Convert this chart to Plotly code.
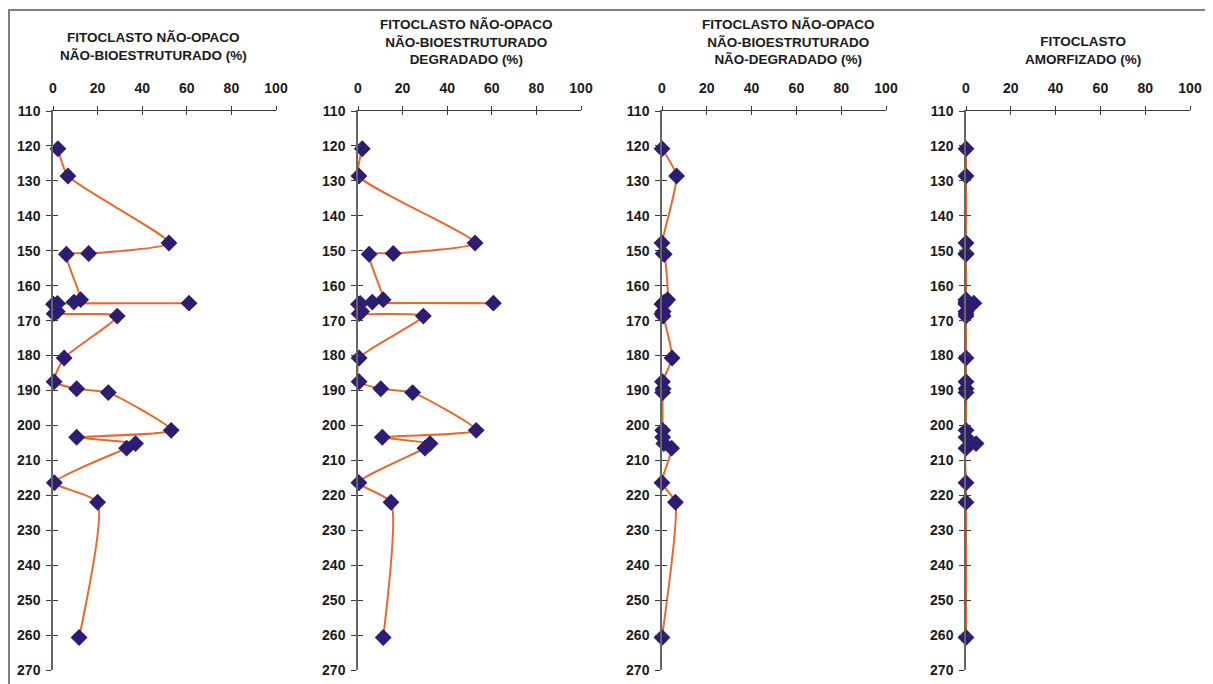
import plotly.graph_objects as go

# ---- data ----
depth = [120.8, 128.6, 147.8, 150.8, 151.0, 164.0, 164.7, 165.0, 165.1, 165.3,
         167.4, 168.0, 168.7, 180.7, 187.5, 189.5, 190.6, 201.4, 203.4, 205.2,
         206.5, 216.4, 222.0, 260.7]

nao_bioestruturado = [2.2, 6.7, 52, 16, 6, 12.4, 9.4, 61, 2, 0.2,
                      1.9, 0.5, 28.8, 5, 0.5, 10.6, 24.8, 53, 10.6, 37,
                      33, 0.6, 20, 11.7]

degradado = [1.9, 0.4, 52.5, 15.8, 5, 11.3, 6.4, 60.7, 1, 0.2,
             1.6, 0.5, 29.3, 0.5, 0.5, 10.2, 24.5, 53, 10.9, 32.3,
             30, 0.4, 14.8, 11.3]

nao_degradado = [0, 6.5, 0, 0.5, 1, 2.5, 1, 0.5, 1, 0,
                 0.5, 0, 0.5, 4.5, 0.2, 0.5, 0.3, 0.3, 0.3, 0.8,
                 4.3, 0, 6, 0]

amorfizado = [0, 0, 0, 0, 0, 0, 0, 3.5, 0, 0,
              0, 0, 0, 0, 0, 0, 0, 0, 0, 4.5,
              0, 0, 0, 0]

titles = [
    "FITOCLASTO NÃO-OPACO<br>NÃO-BIOESTRUTURADO (%)",
    "FITOCLASTO NÃO-OPACO<br>NÃO-BIOESTRUTURADO<br>DEGRADADO (%)",
    "FITOCLASTO NÃO-OPACO<br>NÃO-BIOESTRUTURADO<br>NÃO-DEGRADADO (%)",
    "FITOCLASTO<br>AMORFIZADO (%)",
]

x_ticks = [0, 20, 40, 60, 80, 100]
y_ticks = [110, 120, 130, 140, 150, 160, 170, 180, 190, 200, 210, 220, 230, 240, 250, 260, 270]

series = [nao_bioestruturado, degradado, nao_degradado, amorfizado]

# ---- layout geometry (page pixels; the page body has an 8px margin) ----
OFF = 8
W, H = 1213 - OFF, 684 - OFF
def fx(p):
    return (p - OFF) / W
def fy(p):
    return 1 - (p - OFF) / H

panel_px = [(53, 276), (358, 581), (662, 886), (966, 1190)]
title_cx = [153, 466, 788, 1083]
title_bottom = [65, 69, 69, 69]
y_top, y_bot = 111, 670

ORANGE = "#E8692B"
NAVY = "#2C1C72"
AXIS = "#3a3a3a"
FONT = "Liberation Sans, Arial, sans-serif"
tickfont = dict(family=FONT, size=14, color="#1a1a1a", weight="bold")

fig = go.Figure()
layout = dict(
    width=W, height=H, margin=dict(l=0, r=0, t=0, b=0, autoexpand=False),
    paper_bgcolor="white", plot_bgcolor="white", showlegend=False,
    annotations=[], shapes=[],
)

for i, vals in enumerate(series):
    n = i + 1
    xs = "" if n == 1 else str(n)
    fig.add_trace(go.Scatter(
        x=vals, y=depth, mode="lines+markers", cliponaxis=False,
        line=dict(color=ORANGE, width=2, shape="spline", smoothing=0.55),
        marker=dict(symbol="diamond", size=13, color=NAVY, line=dict(color=NAVY, width=0)),
        xaxis="x" + xs, yaxis="y" + xs, hoverinfo="x+y",
    ))
    x0, x1 = panel_px[i]
    layout["xaxis" + xs] = dict(
        domain=[fx(x0), fx(x1)], range=[0, 100], side="top", anchor="y" + xs,
        tickvals=x_ticks, ticks="outside", ticklen=4, tickcolor=AXIS, tickwidth=1,
        showline=True, linecolor=AXIS, linewidth=1, showgrid=False, zeroline=False,
        tickfont=tickfont, ticklabelstandoff=7, fixedrange=True, automargin=False,
    )
    layout["yaxis" + xs] = dict(
        domain=[fy(y_bot), fy(y_top)], range=[270, 110], anchor="x" + xs,
        tickvals=y_ticks, ticks="outside", ticklen=5, tickcolor=AXIS, tickwidth=1,
        showline=True, linecolor="#666666", linewidth=1.5, showgrid=False, zeroline=False,
        tickfont=tickfont, ticklabelstandoff=3, fixedrange=True, automargin=False,
    )
    # overlay axes giving the "cross" tick marks (inside part)
    m = n + 4
    fig.add_trace(go.Scatter(x=[], y=[], xaxis="x%d" % m, yaxis="y%d" % m,
                             showlegend=False, hoverinfo="skip"))
    layout["xaxis%d" % m] = dict(
        overlaying="x" + xs, anchor="y%d" % m, side="top", range=[0, 100],
        tickvals=x_ticks, ticks="inside", ticklen=4, tickcolor=AXIS, tickwidth=1,
        showticklabels=False, showline=False, showgrid=False, zeroline=False,
        automargin=False,
    )
    layout["yaxis%d" % m] = dict(
        overlaying="y" + xs, anchor="x%d" % m, range=[270, 110],
        tickvals=y_ticks, ticks="inside", ticklen=5, tickcolor=AXIS, tickwidth=1,
        showticklabels=False, showline=False, showgrid=False, zeroline=False,
        automargin=False,
    )
    layout["annotations"].append(dict(
        text="<b>%s</b>" % titles[i], x=fx(title_cx[i]), y=fy(title_bottom[i]),
        xref="paper", yref="paper", xanchor="center", yanchor="bottom",
        showarrow=False, align="center",
        font=dict(family=FONT, size=13.5, color="#1a1a1a"),
    ))

# outer grey frame
layout["shapes"].append(dict(
    type="rect", xref="paper", yref="paper",
    x0=1.0 / W, x1=fx(1207), y0=-0.05, y1=fy(10),
    line=dict(color="#808080", width=2), fillcolor="rgba(0,0,0,0)",
))

layout["font"] = dict(family=FONT)
fig.update_layout(**layout)

fig.write_html("out.html")
